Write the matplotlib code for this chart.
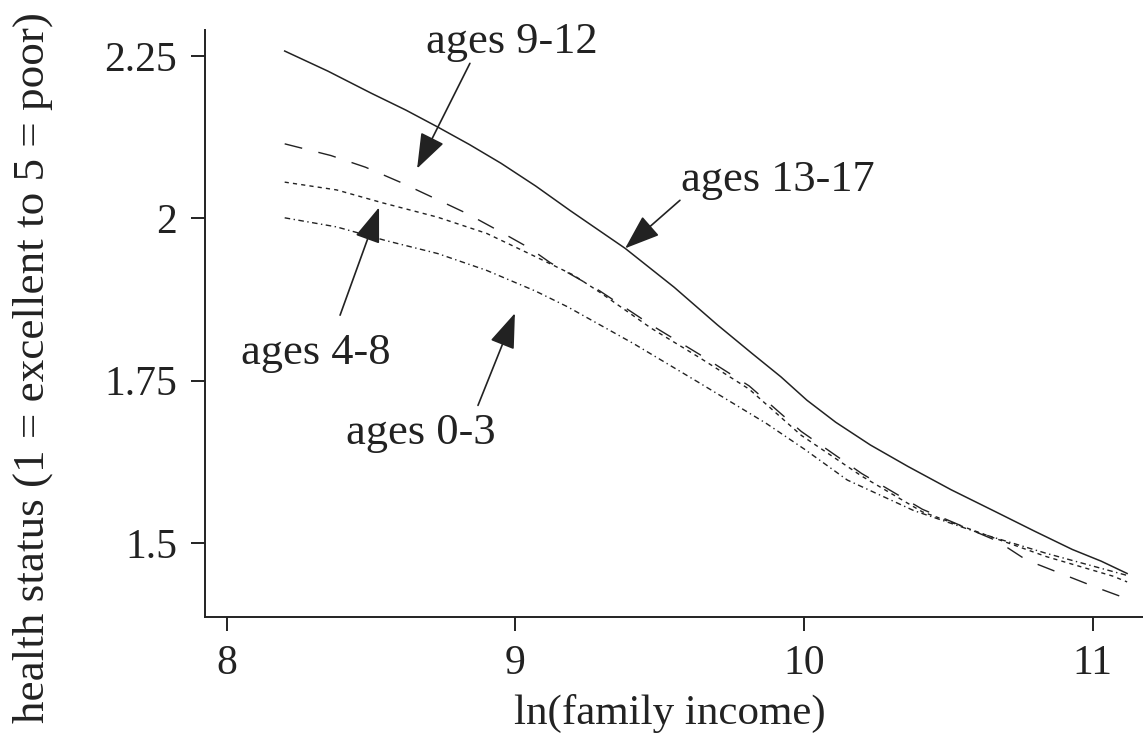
import matplotlib
matplotlib.use("Agg")
import matplotlib.pyplot as plt

plt.rcParams['font.family'] = ['Liberation Serif', 'DejaVu Serif']

# Smoothed health status by log family income, one curve per age group
x_13_17 = [8.2, 8.35, 8.5, 8.62, 8.73, 8.84, 8.95, 9.07, 9.19, 9.38, 9.55, 9.70, 9.82, 9.92,
           10.01, 10.11, 10.23, 10.36, 10.51, 10.66, 10.80, 10.93, 11.03, 11.12]
y_13_17 = [2.258, 2.227, 2.193, 2.167, 2.141, 2.114, 2.085, 2.050, 2.012, 1.954, 1.894, 1.836, 1.792, 1.756,
           1.720, 1.686, 1.651, 1.618, 1.582, 1.549, 1.518, 1.490, 1.472, 1.453]

x_9_12 = [8.2, 8.36, 8.48, 8.6, 8.72, 8.83, 8.95, 9.05, 9.12, 9.29, 9.47, 9.64, 9.81, 9.99,
          10.2, 10.41, 10.67, 10.77, 10.89, 11.01, 11.12]
y_9_12 = [2.115, 2.097, 2.079, 2.056, 2.031, 2.008, 1.979, 1.954, 1.932, 1.889, 1.836, 1.790, 1.742, 1.672,
          1.607, 1.552, 1.503, 1.474, 1.453, 1.432, 1.414]

x_4_8 = [8.2, 8.38, 8.54, 8.73, 8.9, 9.07, 9.2, 9.29, 9.47, 9.64, 9.81, 9.99, 10.2, 10.41,
         10.67, 10.84, 11.07, 11.12]
y_4_8 = [2.056, 2.044, 2.024, 2.002, 1.977, 1.941, 1.913, 1.887, 1.831, 1.785, 1.737, 1.666, 1.603, 1.548,
         1.506, 1.479, 1.449, 1.440]

x_0_3 = [8.2, 8.38, 8.55, 8.73, 8.9, 9.07, 9.18, 9.41, 9.64, 9.87, 10.0, 10.15, 10.38, 10.61, 10.84, 11.12]
y_0_3 = [2.001, 1.987, 1.966, 1.946, 1.920, 1.888, 1.864, 1.807, 1.746, 1.684, 1.645, 1.597, 1.550, 1.515,
         1.484, 1.450]

x_ticks = [8, 9, 10, 11]
y_ticks = [1.5, 1.75, 2, 2.25]
y_ticklabels = ['1.5', '1.75', '2', '2.25']

ink = '#222222'

fig = plt.figure(figsize=(11.43, 7.38), dpi=100)
ax = fig.add_axes([0.1794, 0.164, 0.8206, 0.795])

ax.plot(x_13_17, y_13_17, color=ink, lw=1.1, ls='-')
ax.plot(x_9_12, y_9_12, color=ink, lw=1.0, ls=(0, (13, 12)))
ax.plot(x_4_8, y_4_8, color=ink, lw=1.0, ls=(0, (3, 3)))
ax.plot(x_0_3, y_0_3, color=ink, lw=1.0, ls=(0, (4, 2.5, 1, 2.5)))

ax.set_xlim(7.924, 11.175)
ax.set_ylim(1.386, 2.29)

ax.set_xticks(x_ticks)
ax.set_xticklabels([str(v) for v in x_ticks])
ax.set_yticks(y_ticks)
ax.set_yticklabels(y_ticklabels)

for side in ['top', 'right']:
    ax.spines[side].set_visible(False)
for side in ['left', 'bottom']:
    ax.spines[side].set_linewidth(1.4)
    ax.spines[side].set_color(ink)

ax.tick_params(axis='both', length=10, width=1.4, color=ink, labelcolor=ink, labelsize=30, pad=10)

# labels with arrows pointing at each curve
labels = [
    ('ages 9-12', (8.988, 2.272), (8.842, 2.239), (8.659, 2.077)),
    ('ages 13-17', (9.910, 2.059), (9.570, 2.028), (9.380, 1.954)),
    ('ages 4-8', (8.308, 1.792), (8.392, 1.851), (8.527, 2.017)),
    ('ages 0-3', (8.672, 1.669), (8.870, 1.712), (8.998, 1.854)),
]
for text, pos, tail, head in labels:
    ax.text(pos[0], pos[1], text, fontsize=32, color=ink, ha='center', va='center')
    ax.annotate('', xy=head, xytext=tail,
                arrowprops=dict(arrowstyle='-|>,head_length=1.1,head_width=0.4',
                                mutation_scale=20, color=ink, lw=1.2,
                                shrinkA=0, shrinkB=0))

fig.text(670 / 1143, 1 - 713 / 738, 'ln(family income)', fontsize=31, color=ink,
         ha='center', va='center')
fig.text(33 / 1143, 1 - 368 / 738, 'health status (1 = excellent to 5 = poor)', fontsize=32.5,
         color=ink, ha='center', va='center', rotation=90)

fig.savefig('out.png', dpi=100)
